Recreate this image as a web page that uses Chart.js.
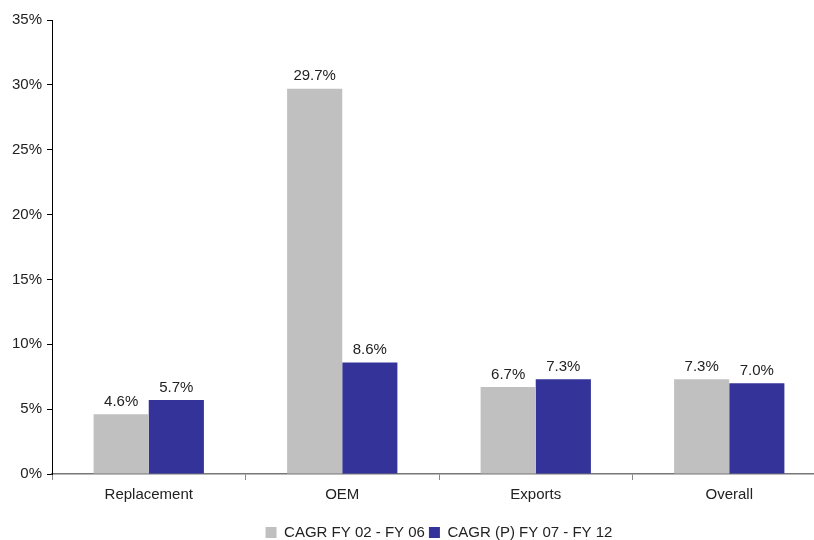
<!DOCTYPE html>
<html>
<head>
<meta charset="utf-8">
<script src="https://cdn.jsdelivr.net/npm/chart.js@4.4.0/dist/chart.umd.min.js"></script>
<style>
  html, body { margin: 0; padding: 0; background: #fff; overflow: hidden; }
  #wrap { position: absolute; left: 0; top: 0; width: 826px; height: 540px; }
</style>
</head>
<body>
<div id="wrap"><canvas id="cagrChart" width="826" height="540"></canvas></div>
<script>
// Segment growth figures (percent)
const segments = ['Replacement', 'OEM', 'Exports', 'Overall'];
const cagrPast = [4.6, 29.7, 6.7, 7.3];
const cagrProjected = [5.7, 8.6, 7.3, 7.0];
const yTicks = [0, 5, 10, 15, 20, 25, 30, 35];

const FONT = "'Liberation Sans', Arial, Helvetica, sans-serif";

// Writes the value above every bar
const valueLabels = {
    id: 'valueLabels',
    afterDatasetsDraw(chart) {
        const ctx = chart.ctx;
        ctx.save();
        ctx.font = '15px ' + FONT;
        ctx.fillStyle = '#222';
        ctx.textAlign = 'center';
        ctx.textBaseline = 'bottom';
        chart.data.datasets.forEach((ds, i) => {
            chart.getDatasetMeta(i).data.forEach((bar, j) => {
                ctx.fillText(ds.data[j].toFixed(1) + '%', bar.x, bar.y - 5);
            });
        });
        ctx.restore();
    }
};

// Center the legend under the plot area instead of the whole canvas
const legendUnderPlot = {
    id: 'legendUnderPlot',
    afterLayout(chart) {
        if (chart.legend) {
            chart.legend.left = chart.chartArea.left;
            chart.legend.right = chart.chartArea.right;
        }
    }
};

const ctx = document.getElementById('cagrChart').getContext('2d');
new Chart(ctx, {
    type: 'bar',
    data: {
        labels: segments,
        datasets: [{
            label: 'CAGR FY 02 - FY 06',
            data: cagrPast,
            backgroundColor: '#c0c0c0',
            barPercentage: 1,
            categoryPercentage: 0.57
        }, {
            label: 'CAGR (P) FY 07 - FY 12',
            data: cagrProjected,
            backgroundColor: '#333399',
            barPercentage: 1,
            categoryPercentage: 0.57
        }]
    },
    options: {
        responsive: false,
        animation: false,
        layout: { padding: { top: 20, left: 0, right: 0, bottom: -10 } },
        plugins: {
            tooltip: { enabled: false },
            legend: {
                position: 'bottom',
                labels: {
                    font: { family: FONT, size: 15 },
                    color: '#222',
                    boxWidth: 11,
                    boxHeight: 11,
                    padding: 4
                }
            }
        },
        scales: {
            x: {
                grid: { display: true, drawOnChartArea: false, tickLength: 6, color: '#888', offset: true },
                border: { color: '#777', width: 1.5 },
                ticks: { font: { family: FONT, size: 15 }, color: '#222', padding: 6 },
                afterFit(scale) { scale.height = 47; }
            },
            y: {
                min: 0,
                max: 35,
                afterBuildTicks(scale) { scale.ticks = yTicks.map(v => ({ value: v })); },
                grid: { display: true, drawOnChartArea: false, tickLength: 5, color: '#000' },
                border: { color: '#000', width: 1 },
                ticks: {
                    font: { family: FONT, size: 15 },
                    color: '#222',
                    padding: 5,
                    callback: v => v + '%'
                },
                afterFit(scale) { scale.width = 52; }
            }
        }
    },
    plugins: [valueLabels, legendUnderPlot]
});
</script>
</body>
</html>
